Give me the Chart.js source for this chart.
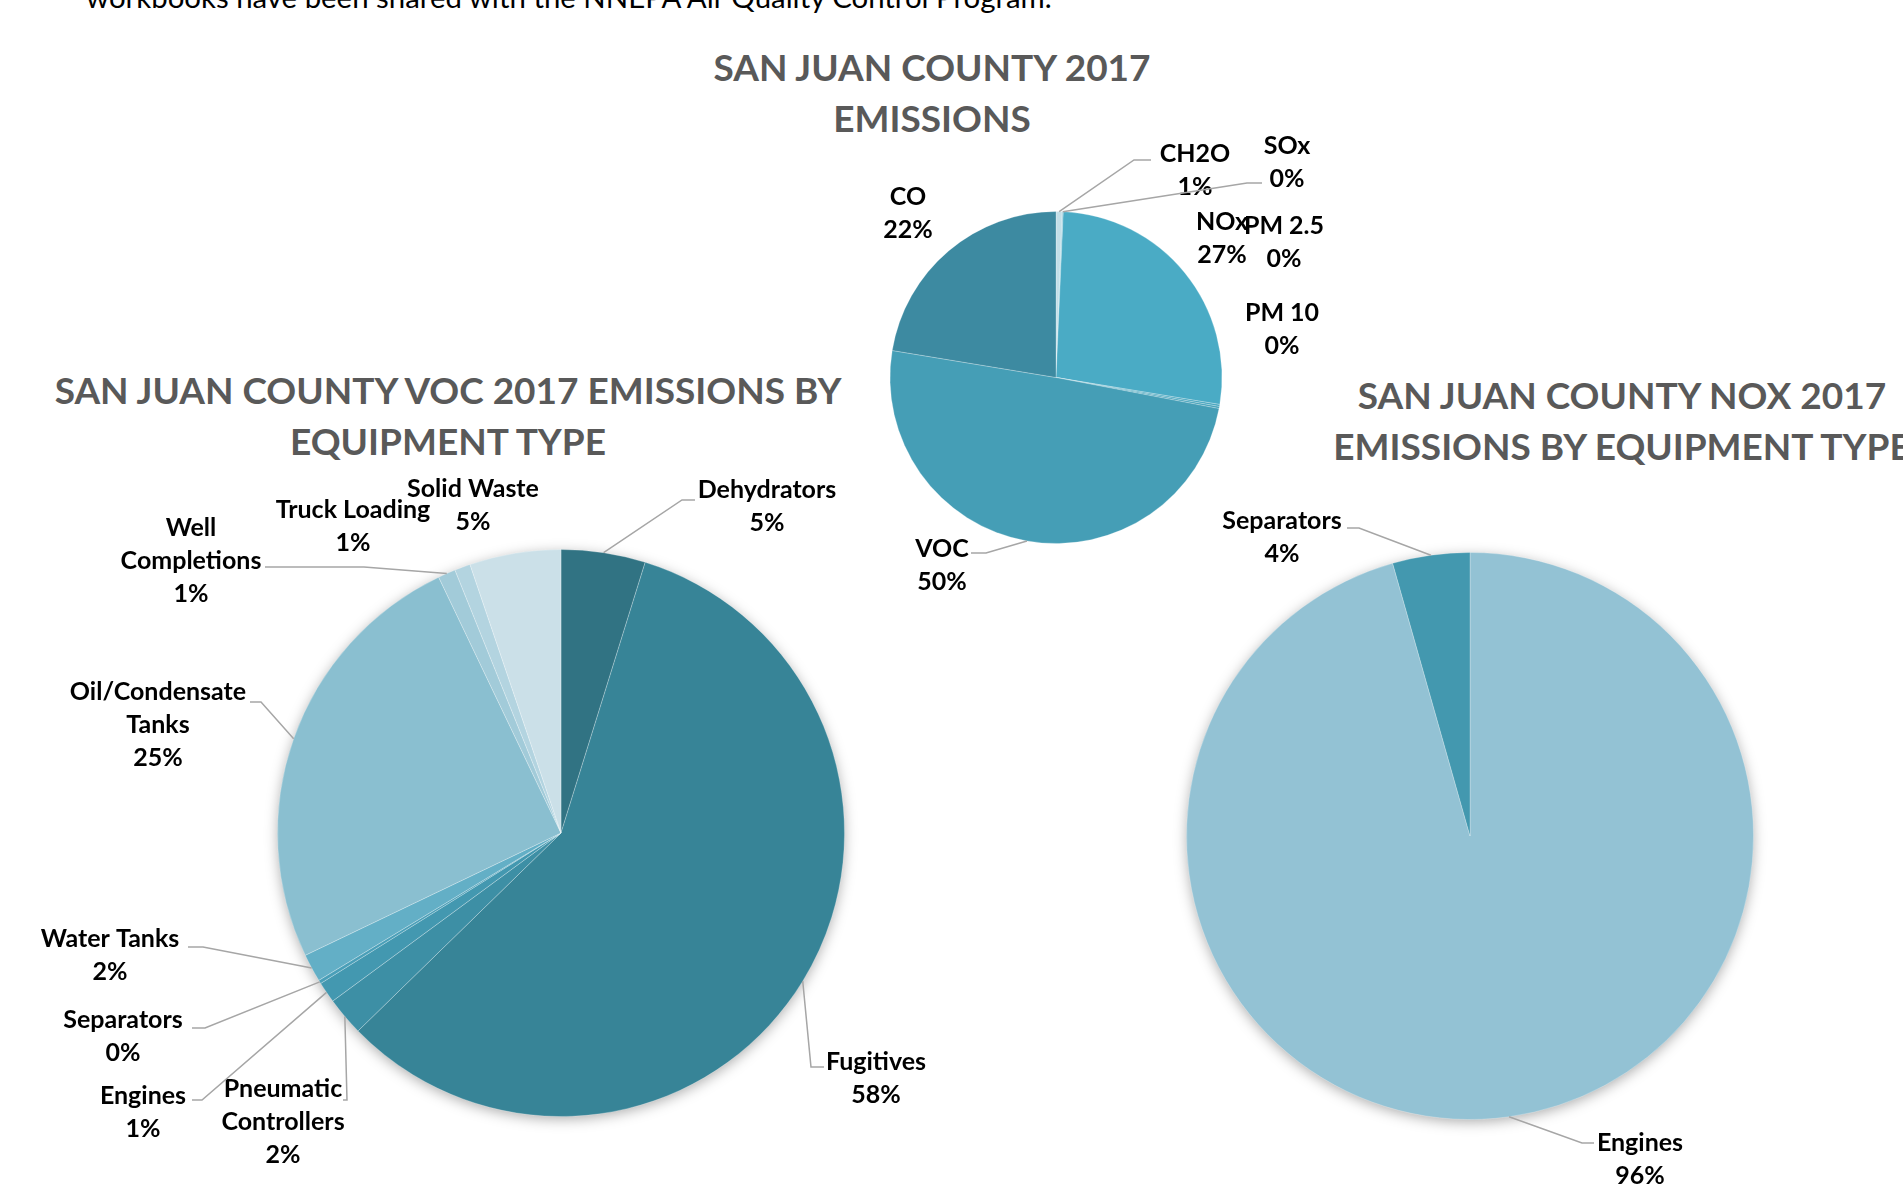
<!DOCTYPE html>
<html>
<head>
<meta charset="utf-8">
<title>San Juan County 2017 Emissions</title>
<script src="https://cdn.jsdelivr.net/npm/chart.js@4.4.0/dist/chart.umd.min.js"></script>
<style>
  html, body { margin: 0; padding: 0; width: 1903px; height: 1197px; overflow: hidden; background: #fff; }
  canvas { position: absolute; left: 0; top: 0; }
  .intro { position: absolute; left: 86px; top: -18px; font: 29.4px Lato, sans-serif; line-height: 29.4px; color: #000; white-space: nowrap; }
  .title { position: absolute; font: bold 37px Lato, sans-serif; line-height: 51px; color: #595959; text-align: center; white-space: nowrap; }
</style>
</head>
<body>
<div class="intro">workbooks have been shared with the NNEPA Air Quality Control Program.</div>
<div class="title" style="left:582px; top:41px; width:700px;">SAN JUAN COUNTY 2017<br>EMISSIONS</div>
<div class="title" style="left:8px; top:364px; width:880px;">SAN JUAN COUNTY VOC 2017 EMISSIONS BY<br>EQUIPMENT TYPE</div>
<div class="title" style="left:1222px; top:369px; width:800px;">SAN JUAN COUNTY NOX 2017<br>EMISSIONS BY EQUIPMENT TYPE</div>

<canvas id="emissionsChart" width="1903" height="1197"></canvas>
<canvas id="vocChart" width="1903" height="1197"></canvas>
<canvas id="noxChart" width="1903" height="1197"></canvas>

<script>
// Shares in percent (clockwise from 12 o'clock)
const emissionCategories = ['CH2O', 'SOx', 'NOx', 'PM 2.5', 'PM 10', 'VOC', 'CO'];
const emissionShares = [0.6, 0.1, 26.9, 0.2, 0.2, 49.6, 22.4];

const vocCategories = ['Dehydrators', 'Fugitives', ['Pneumatic', 'Controllers'], 'Engines', 'Separators',
    'Water Tanks', ['Oil/Condensate', 'Tanks'], ['Well', 'Completions'], 'Truck Loading', 'Solid Waste'];
const vocShares = [4.8, 57.9, 2.2, 1.2, 0.2, 1.6, 25.0, 1.0, 0.9, 5.2];

const noxCategories = ['Engines', 'Separators'];
const noxShares = [95.6, 4.4];

// Slice colours
const emissionColors = ['#c3dfe8', '#86c5d7', '#4aabc5', '#48a6bf', '#46a2ba', '#459eb6', '#3d8aa1'];
const vocColors = ['#317383', '#378497', '#3d8fa5', '#4398b0', '#4a9fb8', '#63afc6', '#8abfd0', '#a2cbd9', '#b3d4e0', '#cbe0e8'];
const noxColors = ['#93c2d4', '#4398af'];

const W = 1903, H = 1197;
const LINE_H = 32.8;

// Where each pie sits on the page
const pieGeometry = {
    emissions: { cx: 1056, cy: 377.5, r: 166.5 },
    voc: { cx: 561, cy: 833, r: 284 },
    nox: { cx: 1470, cy: 836, r: 284 },
};

// Label placement (page px): text centre of first line, optional leader [elbowX, elbowY, endX]
const emissionPlacements = [
    { x: 1195, y: 154, line: [1134, 160, 1151] },
    { x: 1287, y: 146, line: [1247, 183, 1262] },
    { x: 1222, y: 222 },
    { x: 1284, y: 226 },
    { x: 1282, y: 313 },
    { x: 942, y: 549, line: [986, 553, 971] },
    { x: 908, y: 197 },
];
const vocPlacements = [
    { x: 767, y: 490, line: [682, 500, 695] },
    { x: 876, y: 1062, line: [811, 1067, 824] },
    { x: 283, y: 1089, line: [347, 1100, 343] },
    { x: 143, y: 1096, line: [202, 1100, 192] },
    { x: 123, y: 1020, line: [205, 1028, 192] },
    { x: 110, y: 939, line: [203, 947, 188] },
    { x: 158, y: 692, line: [261, 702, 250] },
    { x: 191, y: 528, line: [364, 567, 265] },
    { x: 353, y: 510 },
    { x: 473, y: 489 },
];
const noxPlacements = [
    { x: 1640, y: 1143, line: [1582, 1143, 1594] },
    { x: 1282, y: 521, line: [1359, 528, 1347] },
];

// Shadow behind the pie + data labels with leader lines
const sliceLabels = {
    id: 'sliceLabels',
    beforeDatasetsDraw(chart, args, opts) {
        if (!opts.shadow) return;
        const arc = chart.getDatasetMeta(0).data[0];
        const { x, y, outerRadius } = arc.getProps(['x', 'y', 'outerRadius'], true);
        const ctx = chart.ctx;
        ctx.save();
        ctx.shadowColor = 'rgba(0,0,0,0.35)';
        ctx.shadowBlur = 14;
        ctx.shadowOffsetY = 3;
        ctx.fillStyle = '#fff';
        ctx.beginPath();
        ctx.arc(x, y, outerRadius - 1, 0, Math.PI * 2);
        ctx.fill();
        ctx.restore();
    },
    afterDatasetsDraw(chart, args, opts) {
        const ctx = chart.ctx;
        const meta = chart.getDatasetMeta(0);
        const values = chart.data.datasets[0].data;
        const total = values.reduce((a, b) => a + b, 0);
        ctx.save();
        ctx.font = 'bold 25px Lato, sans-serif';
        ctx.textAlign = 'center';
        ctx.textBaseline = 'middle';
        opts.placements.forEach((p, i) => {
            const arc = meta.data[i];
            const { x, y, startAngle, endAngle, outerRadius } =
                arc.getProps(['x', 'y', 'startAngle', 'endAngle', 'outerRadius'], true);
            if (p.line) {
                const mid = (startAngle + endAngle) / 2;
                ctx.strokeStyle = '#a6a6a6';
                ctx.lineWidth = 1.5;
                ctx.beginPath();
                ctx.moveTo(x + Math.cos(mid) * outerRadius, y + Math.sin(mid) * outerRadius);
                ctx.lineTo(p.line[0], p.line[1]);
                ctx.lineTo(p.line[2], p.line[1]);
                ctx.stroke();
            }
            const lines = [].concat(chart.data.labels[i], Math.round(values[i] / total * 100) + '%');
            ctx.fillStyle = '#000';
            lines.forEach((t, k) => ctx.fillText(t, p.x, p.y + k * LINE_H));
        });
        ctx.restore();
    }
};

function paddingFor(g) {
    return { left: g.cx - g.r, top: g.cy - g.r, right: W - g.cx - g.r, bottom: H - g.cy - g.r };
}

function makePie(canvasId, labels, values, colors, geometry, placements, shadow) {
    return new Chart(document.getElementById(canvasId), {
        type: 'pie',
        data: {
            labels: labels,
            datasets: [{
                data: values,
                backgroundColor: colors,
                borderColor: 'rgba(255,255,255,0.25)',
                borderWidth: 1,
            }]
        },
        options: {
            responsive: false,
            animation: false,
            events: [],
            layout: { padding: paddingFor(geometry) },
            plugins: {
                legend: { display: false },
                tooltip: { enabled: false },
                sliceLabels: { placements: placements, shadow: shadow },
            },
        },
        plugins: [sliceLabels]
    });
}

makePie('emissionsChart', emissionCategories, emissionShares, emissionColors, pieGeometry.emissions, emissionPlacements, false);
makePie('vocChart', vocCategories, vocShares, vocColors, pieGeometry.voc, vocPlacements, true);
makePie('noxChart', noxCategories, noxShares, noxColors, pieGeometry.nox, noxPlacements, true);
</script>
</body>
</html>
